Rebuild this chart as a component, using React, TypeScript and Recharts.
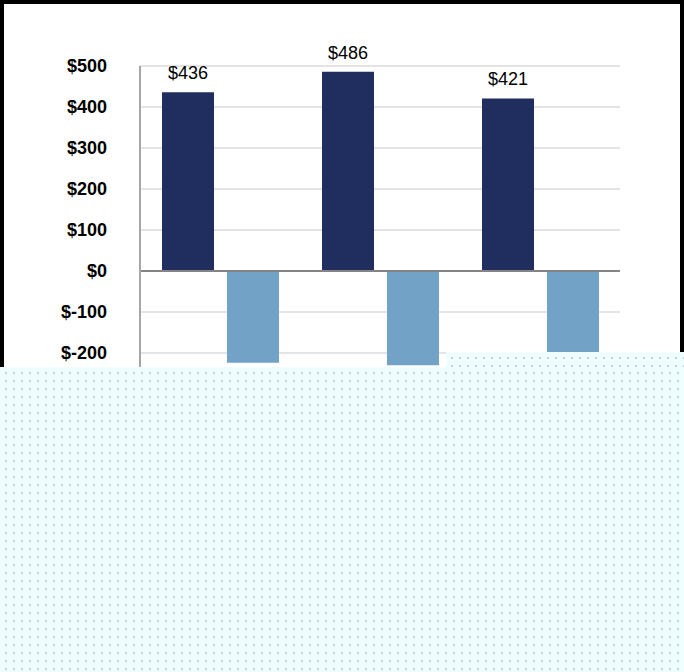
import React from 'react';
import { Bar, BarChart, CartesianGrid, LabelList, ReferenceLine, XAxis, YAxis } from 'recharts';

// categories are not visible in the reference (covered), so they stay unlabeled
const periods = ['A', 'B', 'C'];
const inflow = [436, 486, 421];
const outflow = [-224, -230, -198];
const yTicks = [-300, -200, -100, 0, 100, 200, 300, 400, 500];

const data = periods.map((p, i) => ({ period: p, inflow: inflow[i], outflow: outflow[i] }));

const money = (v: number) => `$${v}`;

const overlay: React.CSSProperties = {
  position: 'absolute',
  backgroundColor: '#effefe',
  backgroundImage: 'radial-gradient(circle, #bfd0ea 0.8px, transparent 1.2px)',
  backgroundSize: '8px 8px',
  backgroundPosition: '2px 2px',
};

export default function App() {
  return (
    <div style={{ position: 'absolute', left: 0, top: 0, width: 684, height: 672, background: '#fff' }}>
      <div
        style={{
          position: 'absolute',
          inset: 0,
          border: '4px solid #000',
          boxSizing: 'border-box',
        }}
      />
      <BarChart
        width={684}
        height={672}
        data={data}
        margin={{ top: 66, right: 64, left: 0, bottom: 278 }}
        barSize={52}
        barGap={13}
        style={{ position: 'absolute', left: 0, top: 0, fontFamily: '"Liberation Sans", Arial, sans-serif' }}
      >
        <CartesianGrid vertical={false} stroke="#e4e4e4" strokeWidth={2} />
        <XAxis dataKey="period" hide />
        <YAxis
          width={140}
          domain={[-300, 500]}
          ticks={yTicks}
          tickFormatter={money}
          tickSize={0}
          tickMargin={33}
          axisLine={{ stroke: '#a6a6a6', strokeWidth: 2 }}
          tickLine={false}
          tick={{ fontSize: 18, fontWeight: 700, fill: '#000' }}
        />
        <ReferenceLine y={0} stroke="#858585" strokeWidth={2} />
        <Bar dataKey="inflow" fill="#1f2e5e" isAnimationActive={false}>
          <LabelList dataKey="inflow" position="top" offset={13} formatter={money} fill="#000" fontSize={18} />
        </Bar>
        <Bar dataKey="outflow" fill="#72a3c6" isAnimationActive={false} />
      </BarChart>
      <div style={{ ...overlay, left: 446, top: 352, width: 238, height: 16 }} />
      <div style={{ ...overlay, left: 0, top: 367, width: 684, height: 305 }} />
    </div>
  );
}
